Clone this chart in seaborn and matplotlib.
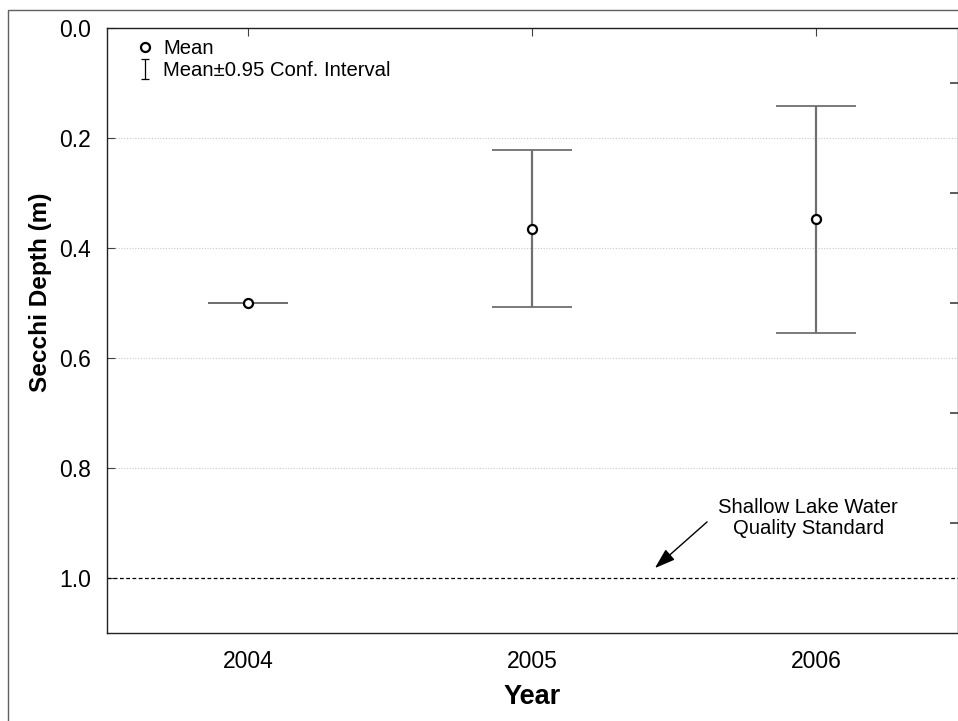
import matplotlib
matplotlib.use('Agg')
from matplotlib import pyplot as plt
from matplotlib.lines import Line2D
from matplotlib.patches import Rectangle
from matplotlib.path import Path
import seaborn as sns
import pandas as pd

"""
Data: mean Secchi depth per year and half-width of the 95% CI
"""
years = ['2004', '2005', '2006']
mean_depth = [0.50, 0.365, 0.348]
ci_half = [0.0, 0.143, 0.206]
standard_depth = 1.0
y_ticks = [0.0, 0.2, 0.4, 0.6, 0.8, 1.0]
y_minor_right = [0.1, 0.3, 0.5, 0.7, 0.9]

df = pd.DataFrame({'year': years, 'depth': mean_depth})

sns.set_style('white')
plt.rcParams['font.family'] = ['Liberation Sans', 'DejaVu Sans']

fig = plt.figure(figsize=(9.58, 7.21), dpi=100)
ax = fig.add_axes([106.5 / 958, 1 - 633 / 721, 1 - 106.5 / 958, (633 - 28) / 721])

# grid and standard line
for y in y_ticks[1:-1]:
    ax.axhline(y, color='#c8c8c8', linestyle=(0, (1, 1.5)), linewidth=0.8, zorder=0)
ax.axhline(standard_depth, color='black', linestyle=(0, (3, 2)), linewidth=0.9, zorder=1)

# error bars (CI) then means
eb = ax.errorbar(range(len(years)), mean_depth, yerr=ci_half, fmt='none',
                 ecolor='#707070', elinewidth=1.6, capsize=29, capthick=1.3,
                 zorder=2)
for cap in eb[1]:
    cap.set_color('#2a2a2a')
sns.pointplot(data=df, x='year', y='depth', errorbar=None, linestyle='none',
              markers='o', color='black', ax=ax, zorder=3,
              markersize=6.5, markeredgewidth=1.6, markerfacecolor='white')
for ln in ax.lines:
    if ln.get_marker() == 'o':
        ln.set_markerfacecolor('white')

ax.set_xlim(-0.5, 2.5)
ax.set_ylim(1.1, 0.0)
ax.set_yticks(y_ticks)
ax.set_yticklabels([f'{v:.1f}' for v in y_ticks])
ax.tick_params(axis='both', direction='in', length=6, width=0.8,
               labelsize=16.5, top=True, right=False, color='#404040',
               labelcolor='black')
ax.tick_params(axis='x', pad=12)
ax.tick_params(axis='y', pad=11)

# right-side ticks at odd tenths
ax_r = ax.twinx()
ax_r.set_ylim(1.1, 0.0)
ax_r.set_yticks(y_minor_right)
ax_r.set_yticklabels([])
ax_r.tick_params(axis='y', direction='in', length=6, width=1.2, color='#404040')
for s in ax_r.spines.values():
    s.set_visible(False)

for s in ax.spines.values():
    s.set_color('#202020')
    s.set_linewidth(1.0)

ax.set_xlabel('Year', fontsize=19.5, fontweight='bold', labelpad=8, color='black')
ax.set_ylabel('Secchi Depth (m)', fontsize=17.6, fontweight='bold', color='black')
ax.yaxis.set_label_coords(-0.064, 0.564)

# annotation for standard
ax.text(1.972, 0.891, 'Shallow Lake Water\nQuality Standard', ha='center',
        va='center', fontsize=14.6, linespacing=1.15, color='black')
ax.annotate('', xy=(1.432, 0.982), xytext=(1.616, 0.898),
            arrowprops=dict(arrowstyle='-|>,head_length=0.9,head_width=0.3',
                            color='black', lw=1.0, shrinkA=0, shrinkB=0,
                            mutation_scale=14))

# legend
ibeam = Path([(-0.45, -1), (0.45, -1), (0, -1), (0, 1), (-0.45, 1), (0.45, 1)],
             [Path.MOVETO, Path.LINETO, Path.MOVETO, Path.LINETO,
              Path.MOVETO, Path.LINETO])
mean_handle = Line2D([], [], marker='o', linestyle='none', markerfacecolor='white',
                     markeredgecolor='black', markersize=6.5, markeredgewidth=1.6)
ci_handle = Line2D([], [], marker=ibeam, linestyle='none', color='black',
                   markersize=14, markeredgewidth=0.9, fillstyle='none')
leg = ax.legend([mean_handle, ci_handle], ['Mean', 'Mean±0.95 Conf. Interval'],
                loc='upper left', frameon=False, fontsize=14.6,
                handlelength=1.0, handletextpad=0.4, labelspacing=0.15,
                bbox_to_anchor=(0.024, 0.995), borderaxespad=0.0)
for t in leg.get_texts():
    t.set_color('black')

# outer frame of the figure
fig.patches.append(Rectangle((8 / 958, -0.1), 1.2, 1 - 10 / 721 + 0.1,
                             transform=fig.transFigure, fill=False,
                             edgecolor='#606060', linewidth=1.0))

fig.savefig('out.png', dpi=100)
